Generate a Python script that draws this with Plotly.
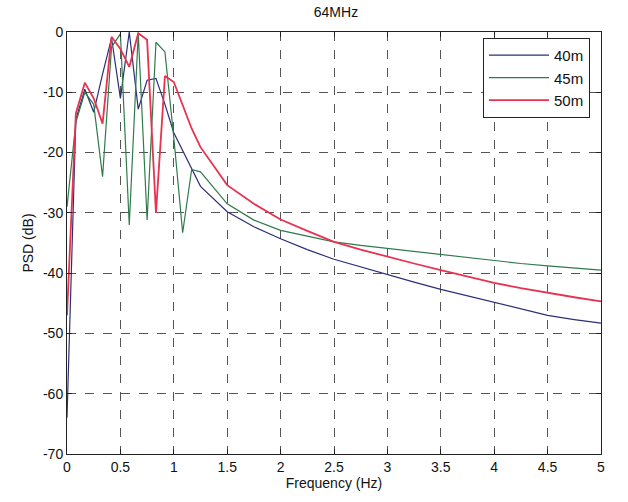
import plotly.graph_objects as go

# ---- data ----
freq_head = [0.0, 0.083, 0.167, 0.25, 0.333, 0.417, 0.5, 0.583, 0.667, 0.75, 0.833, 0.917,
             1.0, 1.083, 1.167, 1.25]
freq_tail = [1.5, 1.75, 2.0, 2.25, 2.5, 2.75, 3.0, 3.25, 3.5, 3.75, 4.0, 4.25, 4.5, 4.75, 5.0]

psd_40m_head = [-64, -14.5, -9.5, -13.3, -7.0, -1.0, -11.0, 0.0, -12.8, -8.0, -7.7, -12.0,
                -16.7, -19.6, -22.5, -25.6]
psd_40m_tail = [-29.8, -32.3, -34.3, -36.1, -37.7, -39.0, -40.3, -41.5, -42.7, -43.8, -44.8,
                -45.9, -47.0, -47.7, -48.3]

psd_45m_head = [-29, -15.0, -10.0, -12.0, -24.0, -2.5, -0.3, -32.0, -0.2, -31.2, -1.7, -3.3,
                -17.5, -33.3, -22.8, -23.2]
psd_45m_tail = [-28.5, -31.2, -32.9, -33.9, -34.8, -35.4, -35.9, -36.4, -36.9, -37.5, -38.0,
                -38.4, -38.8, -39.2, -39.5]

psd_50m_head = [-47, -13.5, -8.4, -11.0, -15.2, -0.8, -2.8, -5.8, -0.2, -1.3, -30.0, -7.3,
                -8.3, -12.0, -16.0, -19.1]
psd_50m_tail = [-25.4, -28.5, -31.1, -33.0, -34.8, -36.1, -37.3, -38.4, -39.5, -40.6, -41.6,
                -42.5, -43.3, -44.0, -44.7]

series = [
    ("40m", psd_40m_head + psd_40m_tail, "#2b2f78", 1.2),
    ("45m", psd_45m_head + psd_45m_tail, "#2f7a4c", 1.2),
    ("50m", psd_50m_head + psd_50m_tail, "#e8324f", 1.8),
]
freq = freq_head + freq_tail

x_ticks = [0, 0.5, 1, 1.5, 2, 2.5, 3, 3.5, 4, 4.5, 5]
x_tick_text = ["0", "0.5", "1", "1.5", "2", "2.5", "3", "3.5", "4", "4.5", "5"]
y_ticks = [0, -10, -20, -30, -40, -50, -60, -70]
y_tick_text = ["0", "-10", "-20", "-30", "-40", "-50", "-60", "-70"]

font_family = "Liberation Sans, Arial, Helvetica, sans-serif"

fig = go.Figure()
for name, vals, color, width in series:
    fig.add_trace(go.Scatter(x=freq, y=vals, mode="lines", name=name,
                             line=dict(color=color, width=width)))

axis_common = dict(
    showline=True, linecolor="#222222", linewidth=1, mirror="ticks",
    ticks="inside", ticklen=5, tickcolor="#222222",
    showgrid=True, gridcolor="#555555", griddash="dash", gridwidth=1,
    zeroline=False, tickfont=dict(family=font_family, size=14, color="#111111"),
)

fig.update_layout(
    width=628, height=502,
    margin=dict(l=67, r=27, t=32, b=48),
    paper_bgcolor="white", plot_bgcolor="white",
    font=dict(family=font_family, size=14, color="#111111"),
    title=dict(text="64MHz", x=0.535, xanchor="center", y=0.975, yanchor="middle",
               yref="container", font=dict(family=font_family, size=14, color="#111111")),
    xaxis=dict(range=[0, 5], tickvals=x_ticks, ticktext=x_tick_text,
               title=dict(text="Frequency (Hz)", standoff=2,
                          font=dict(family=font_family, size=14)),
               **axis_common),
    yaxis=dict(range=[-70, 0], tickvals=y_ticks, ticktext=y_tick_text,
               title=dict(text="PSD (dB)", standoff=6,
                          font=dict(family=font_family, size=14)),
               **axis_common),
    legend=dict(x=0.779, y=0.986, xanchor="left", yanchor="top",
                bgcolor="white", bordercolor="#222222", borderwidth=1,
                font=dict(family=font_family, size=15, color="#111111"),
                itemwidth=60, tracegroupgap=2),
    showlegend=True,
)

# remove the default 8px page margin so the figure fills the window exactly
fig.write_html("out.html",
               config={"displayModeBar": False},
               post_script="document.body.style.margin='0px';document.body.style.overflow='hidden';")
